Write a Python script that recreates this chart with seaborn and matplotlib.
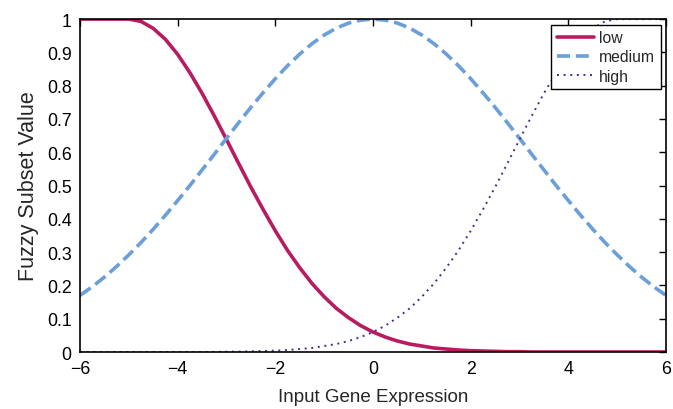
import matplotlib
matplotlib.use("Agg")
import matplotlib.pyplot as plt
import seaborn as sns
import numpy as np
import pandas as pd

x_vals = [-6.0, -5.75, -5.5, -5.25, -5.0, -4.75, -4.5, -4.25, -4.0, -3.75, -3.5, -3.25,
          -3.0, -2.75, -2.5, -2.25, -2.0, -1.75, -1.5, -1.25, -1.0, -0.75, -0.5, -0.25,
          0.0, 0.25, 0.5, 0.75, 1.0, 1.25, 1.5, 1.75, 2.0, 2.25, 2.5, 2.75,
          3.0, 3.25, 3.5, 3.75, 4.0, 4.25, 4.5, 4.75, 5.0, 5.25, 5.5, 5.75, 6.0]

low = [1.0, 1.0, 1.0, 1.0, 1.0, 0.993, 0.972, 0.939, 0.894, 0.839, 0.777, 0.709,
       0.638, 0.566, 0.495, 0.428, 0.364, 0.305, 0.253, 0.206, 0.166, 0.131, 0.103, 0.079,
       0.060, 0.045, 0.033, 0.024, 0.018, 0.012, 0.009, 0.006, 0.004, 0.003, 0.002, 0.001,
       0.001, 0.0, 0.0, 0.0, 0.0, 0.0, 0.0, 0.0, 0.0, 0.0, 0.0, 0.0, 0.0]

medium = [0.170, 0.196, 0.225, 0.257, 0.292, 0.329, 0.369, 0.411, 0.455, 0.500, 0.547, 0.594,
          0.642, 0.689, 0.735, 0.779, 0.821, 0.860, 0.895, 0.926, 0.952, 0.973, 0.988, 0.997,
          1.0, 0.997, 0.988, 0.973, 0.952, 0.926, 0.895, 0.860, 0.821, 0.779, 0.735, 0.689,
          0.642, 0.594, 0.547, 0.500, 0.455, 0.411, 0.369, 0.329, 0.292, 0.257, 0.225, 0.196, 0.170]

high = [0.0, 0.0, 0.0, 0.0, 0.0, 0.0, 0.0, 0.0, 0.0, 0.0, 0.0, 0.0,
        0.001, 0.001, 0.002, 0.003, 0.004, 0.006, 0.009, 0.012, 0.018, 0.024, 0.033, 0.045,
        0.060, 0.079, 0.103, 0.131, 0.166, 0.206, 0.253, 0.305, 0.364, 0.428, 0.495, 0.566,
        0.638, 0.709, 0.777, 0.839, 0.894, 0.939, 0.972, 0.993, 1.0, 1.0, 1.0, 1.0, 1.0]

x_ticks = [-6, -4, -2, 0, 2, 4, 6]
y_ticks = [0, 0.1, 0.2, 0.3, 0.4, 0.5, 0.6, 0.7, 0.8, 0.9, 1]
y_tick_labels = ["0", "0.1", "0.2", "0.3", "0.4", "0.5", "0.6", "0.7", "0.8", "0.9", "1"]

sns.set_style("white")
plt.rcParams['font.family'] = ['Liberation Sans', 'DejaVu Sans']

fig = plt.figure(figsize=(6.73, 4.10), dpi=100)
ax = fig.add_axes([0.1189, 0.139, 0.8707, 0.812])

sns.lineplot(x=x_vals, y=low, ax=ax, color="#B81C60", linewidth=2.6, label="low")
sns.lineplot(x=x_vals, y=medium, ax=ax, color="#6A9FDA", linewidth=2.6, label="medium")
sns.lineplot(x=x_vals, y=high, ax=ax, color="#4A2C8C", linewidth=1.4, label="high")

lines = ax.get_lines()
lines[1].set_dashes([3.6, 1.6])
lines[2].set_dashes([1.0, 2.4])

ax.set_xlim(-6, 6)
ax.set_ylim(0, 1)
ax.set_xticks(x_ticks)
ax.set_xticklabels([("\u2212" + str(-t)) if t < 0 else str(t) for t in x_ticks])
ax.set_yticks(y_ticks)
ax.set_yticklabels(y_tick_labels)
ax.tick_params(direction="in", length=5, width=1, top=True, right=True,
               labelsize=12.8, colors="black", pad=6)
for s in ax.spines.values():
    s.set_color("black")
    s.set_linewidth(1.2)
ax.set_xlabel("Input Gene Expression", fontsize=13.5, labelpad=8)
ax.set_ylabel("Fuzzy Subset Value", fontsize=15.5, labelpad=6)

leg = ax.legend(loc="upper right", fontsize=11.3, frameon=True, fancybox=False,
                edgecolor="black", framealpha=1, handlelength=2.4, borderpad=0.35,
                labelspacing=0.28, handletextpad=0.3, borderaxespad=0.35)
leg.get_frame().set_linewidth(1.0)

fig.savefig("out.png", dpi=100)
